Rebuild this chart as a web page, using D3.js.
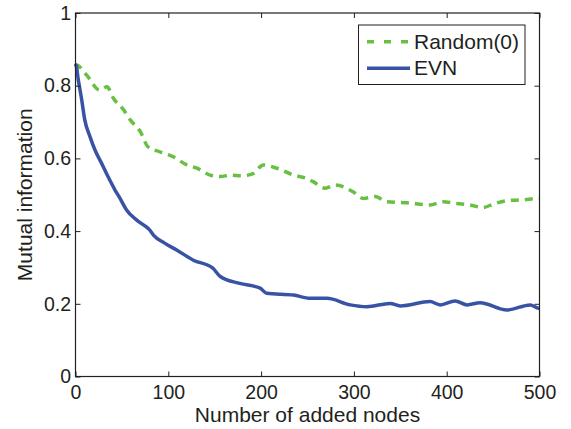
<!DOCTYPE html>
<html>
<head>
<meta charset="utf-8">
<script src="https://cdn.jsdelivr.net/npm/d3@7"></script>
<style>
	body { margin: 0; background: #fff; }
	text { font-family: "Liberation Sans", Arial, sans-serif; fill: #231f20; }
</style>
</head>
<body>
<div id="chart"></div>
<script>
var randomX = [0, 1, 12, 26, 34, 41, 52, 59, 70, 78, 91, 105, 120, 131, 145, 156, 167, 179, 192, 199, 202, 217, 235, 249, 256, 269, 280, 299, 310, 323, 335, 357, 382, 396, 411, 425, 439, 452, 466, 483, 497, 500];
var randomY = [0.852, 0.857, 0.829, 0.788, 0.797, 0.765, 0.733, 0.706, 0.673, 0.632, 0.618, 0.605, 0.582, 0.573, 0.554, 0.550, 0.554, 0.552, 0.559, 0.577, 0.582, 0.573, 0.554, 0.545, 0.536, 0.518, 0.527, 0.508, 0.490, 0.495, 0.481, 0.478, 0.472, 0.481, 0.476, 0.472, 0.465, 0.476, 0.484, 0.486, 0.490, 0.490];
var evnX = [0, 0.5, 3, 6.7, 10, 15.6, 21, 28, 35, 42.6, 48, 55, 67, 80, 84, 96, 109, 127, 148, 156, 177, 199, 206, 235, 253, 271, 296, 314, 339, 350, 382, 393, 409, 422, 436, 465, 490, 499, 500];
var evnY = [0.854, 0.857, 0.816, 0.761, 0.706, 0.660, 0.623, 0.587, 0.550, 0.513, 0.490, 0.458, 0.428, 0.403, 0.389, 0.367, 0.348, 0.320, 0.298, 0.275, 0.256, 0.243, 0.229, 0.224, 0.215, 0.215, 0.197, 0.192, 0.201, 0.194, 0.206, 0.197, 0.208, 0.197, 0.203, 0.183, 0.197, 0.188, 0.188];
var xTicks = [0, 100, 200, 300, 400, 500];
var yTicks = [0, 0.2, 0.4, 0.6, 0.8, 1];
var seriesNames = ["Random(0)", "EVN"];
var seriesColors = ["#68c043", "#3953a4"];

var width = 571, height = 429;
var margin = {left: 75.5, top: 13, right: 31.5, bottom: 52.5};

var svg = d3.select("#chart").append("svg")
	.attr("width", width)
	.attr("height", height);

var x = d3.scaleLinear().domain([0, 500]).range([margin.left, width - margin.right]);
var y = d3.scaleLinear().domain([0, 1]).range([height - margin.bottom, margin.top]);

var line = d3.line()
	.curve(d3.curveMonotoneX)
	.x(function(d){ return x(d[0]); })
	.y(function(d){ return y(d[1]); });

var randomData = randomX.map(function(v, i){ return [v, randomY[i]]; });
var evnData = evnX.map(function(v, i){ return [v, evnY[i]]; });

svg.append("path")
	.datum(randomData)
	.attr("d", line)
	.attr("fill", "none")
	.attr("stroke", seriesColors[0])
	.attr("stroke-width", 3.5)
	.attr("stroke-dasharray", "8,6");

svg.append("path")
	.datum(evnData)
	.attr("d", line)
	.attr("fill", "none")
	.attr("stroke", seriesColors[1])
	.attr("stroke-width", 3.5)
	.attr("stroke-linejoin", "round");

//axes, ticks pointing inside, mirrored on top and right
var axisColor = "#231f20";
var tickFont = "19.5px";
svg.append("g")
	.attr("transform", "translate(0," + y(0) + ")")
	.call(d3.axisBottom(x).tickValues(xTicks).tickSizeInner(-5).tickSizeOuter(0).tickPadding(9))
	.call(function(g){
		g.select(".domain").remove();
		g.selectAll("line").attr("stroke", axisColor);
		g.selectAll("text").style("font-size", tickFont).attr("fill", axisColor).attr("dy", "0.68em");
	});
svg.append("g")
	.attr("transform", "translate(0," + y(1) + ")")
	.call(d3.axisTop(x).tickValues(xTicks).tickSizeInner(-5).tickSizeOuter(0).tickFormat(""))
	.call(function(g){ g.select(".domain").remove(); g.selectAll("line").attr("stroke", axisColor); });
svg.append("g")
	.attr("transform", "translate(" + x(0) + ",0)")
	.call(d3.axisLeft(y).tickValues(yTicks).tickSizeInner(-5).tickSizeOuter(0).tickPadding(4.5).tickFormat(d3.format("~g")))
	.call(function(g){
		g.select(".domain").remove();
		g.selectAll("line").attr("stroke", axisColor);
		g.selectAll("text").style("font-size", tickFont).attr("fill", axisColor);
	});
svg.append("g")
	.attr("transform", "translate(" + x(500) + ",0)")
	.call(d3.axisRight(y).tickValues(yTicks).tickSizeInner(-5).tickSizeOuter(0).tickFormat(""))
	.call(function(g){ g.select(".domain").remove(); g.selectAll("line").attr("stroke", axisColor); });

svg.append("rect")
	.attr("x", x(0)).attr("y", y(1))
	.attr("width", x(500) - x(0)).attr("height", y(0) - y(1))
	.attr("fill", "none").attr("stroke", axisColor).attr("stroke-width", 1.2);

svg.append("text")
	.attr("x", (x(0) + x(500)) / 2).attr("y", 422)
	.attr("text-anchor", "middle")
	.style("font-size", "21px")
	.text("Number of added nodes");
svg.append("text")
	.attr("transform", "translate(31.5," + y(0.5) + ") rotate(-90)")
	.attr("text-anchor", "middle")
	.style("font-size", "21px")
	.text("Mutual information");

//legend
var legend = svg.append("g");
legend.append("rect")
	.attr("x", 358.5).attr("y", 25)
	.attr("width", 166.5).attr("height", 59.5)
	.attr("fill", "#fff").attr("stroke", axisColor).attr("stroke-width", 1);
seriesNames.forEach(function(name, i){
	var ly = 41.7 + i * 26.6;
	legend.append("line")
		.attr("x1", 367).attr("x2", 410)
		.attr("y1", ly).attr("y2", ly)
		.attr("stroke", seriesColors[i])
		.attr("stroke-width", 3.5)
		.attr("stroke-dasharray", i == 0 ? "7,10" : null);
	legend.append("text")
		.attr("x", 414).attr("y", ly + 7)
		.style("font-size", "21px")
		.text(name);
});
</script>
</body>
</html>
